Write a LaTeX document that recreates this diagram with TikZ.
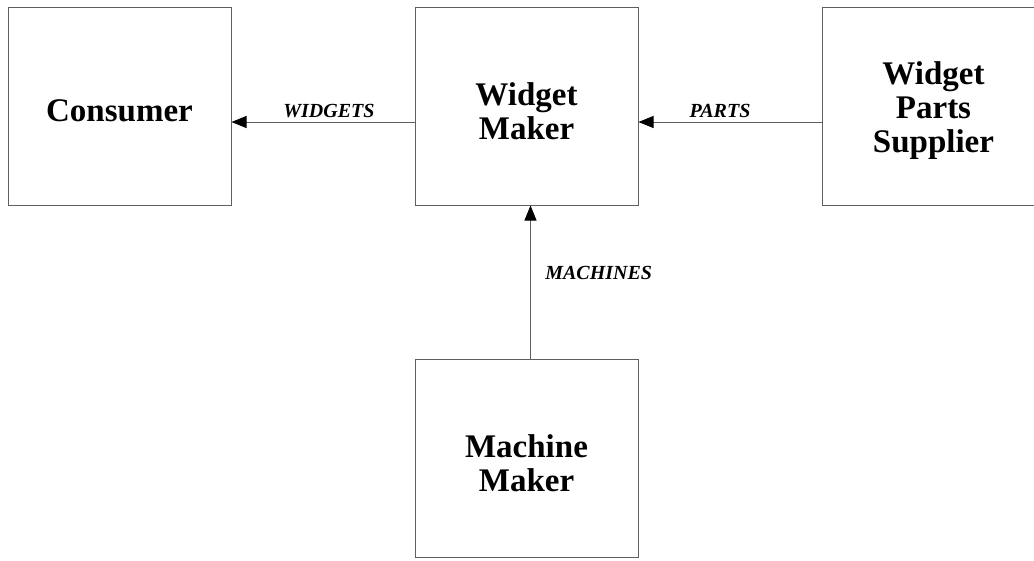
\documentclass[tikz,border=0pt]{standalone}
\usepackage{fontspec}
\setmainfont{Liberation Serif}
\usetikzlibrary{arrows.meta,positioning}
\definecolor{edgegray}{RGB}{95,95,95}

\begin{document}
\begin{tikzpicture}[x=1pt,y=-1pt,
  firm/.style={draw=edgegray,line width=1pt,minimum width=223pt,minimum height=198pt,inner sep=0pt},
  firmtext/.style={align=center,font=\fontsize{33}{34}\selectfont\bfseries,yshift=-5pt},
  goods/.style={font=\fontsize{20}{22}\selectfont\bfseries\itshape},
  flow/.style={draw=edgegray,line width=1pt,-{Triangle[length=15pt,width=12pt,color=black]}}]
  \useasboundingbox (0,0) rectangle (1034,560);
  \node[firm,label={[firmtext]center:Consumer}] (consumer) at (119.5,106) {};
  \node[firm,label={[firmtext]center:Widget\\Maker}] (wmaker) at (526.5,106) {};
  \node[firm,label={[firmtext]center:Widget\\Parts\\Supplier}] (supplier) at (933.5,106) {};
  \node[firm,label={[firmtext]center:Machine\\Maker}] (mmaker) at (526.5,458) {};
  \draw[flow] ([yshift=-16pt]wmaker.west) -- ([yshift=-16pt]consumer.east)
    node[goods,midway,above=0pt,xshift=6pt] (widgets) {WIDGETS};
  \draw[flow] ([yshift=-16pt]supplier.west) -- ([yshift=-16pt]wmaker.east)
    node[goods,midway,above=0pt,xshift=-10pt] (parts) {PARTS};
  \draw[flow] ([xshift=4pt]mmaker.north) -- ([xshift=4pt]wmaker.south)
    node[goods,midway,right=11pt,yshift=9pt] (machines) {MACHINES};
\end{tikzpicture}
\end{document}
